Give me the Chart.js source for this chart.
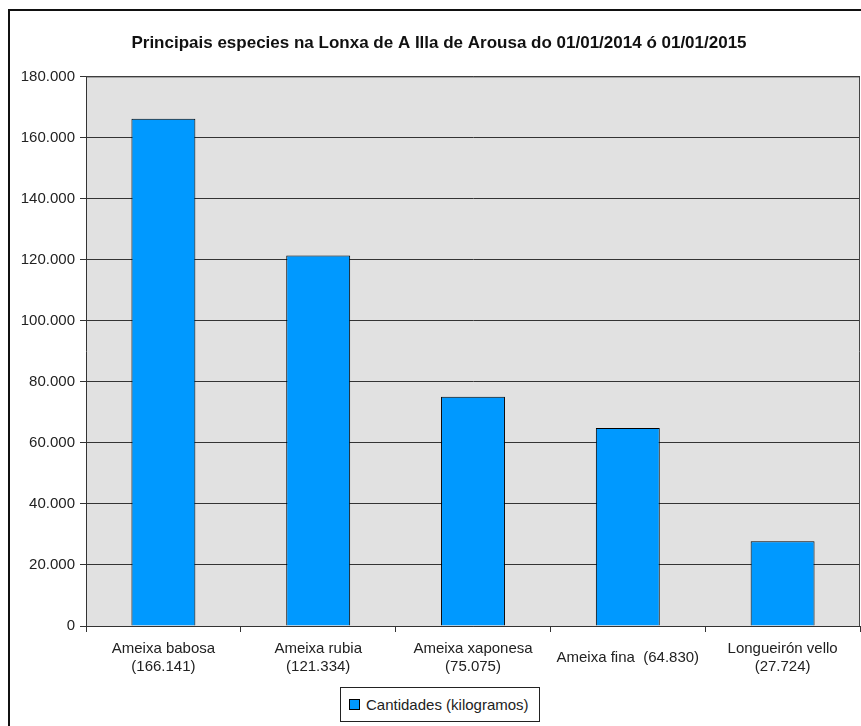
<!DOCTYPE html>
<html>
<head>
<meta charset="utf-8">
<script src="https://cdn.jsdelivr.net/npm/chart.js@4"></script>
<style>
    body { margin: 0; overflow: hidden; background: #fff; font-family: "Liberation Sans", Arial, sans-serif; }
    #wrap { position: relative; width: 861px; height: 726px; overflow: hidden; }
    #chart { position: absolute; left: 0; top: 0; }
    #frame { position: absolute; left: 8px; top: 9px; width: 900px; height: 800px; border: 2px solid #111; pointer-events: none; }
    #legend { position: absolute; left: 340px; top: 687px; width: 198px; height: 33px; border: 1px solid #222; background: #fff;
              font-size: 15px; color: #222; display: flex; align-items: center; }
    #legend .swatch { width: 9px; height: 9px; background: #0099ff; border: 1px solid #000; margin: 0 6px 0 8px; }
</style>
</head>
<body>
<div id="wrap">
    <canvas id="chart" width="861" height="726"></canvas>
    <div id="frame"></div>
    <div id="legend"><span class="swatch"></span><span>Cantidades (kilogramos)</span></div>
</div>
<script>
const categories = [
    ['Ameixa babosa', '(166.141)'],
    ['Ameixa rubia', '(121.334)'],
    ['Ameixa xaponesa', '(75.075)'],
    'Ameixa fina  (64.830)',
    ['Longueirón vello', '(27.724)']
];
const cantidades = [166141, 121334, 75075, 64830, 27724];
const yTicks = [0, 20000, 40000, 60000, 80000, 100000, 120000, 140000, 160000, 180000];

function formatThousands(v) {
    return String(v).replace(/\B(?=(\d{3})+(?!\d))/g, '.');
}

// gray plot background plus the right/top frame
const plotFrame = {
    id: 'plotFrame',
    beforeDraw(chart) {
        const a = chart.chartArea, ctx = chart.ctx;
        ctx.save();
        ctx.fillStyle = '#e1e1e1';
        ctx.fillRect(a.left, a.top, a.right - a.left, a.bottom - a.top);
        ctx.restore();
    },
    afterDraw(chart) {
        const a = chart.chartArea, ctx = chart.ctx;
        ctx.save();
        ctx.strokeStyle = '#444';
        ctx.lineWidth = 1;
        ctx.beginPath();
        ctx.moveTo(a.left, a.top + 0.5);
        ctx.lineTo(a.right - 0.5, a.top + 0.5);
        ctx.lineTo(a.right - 0.5, a.bottom);
        ctx.stroke();
        ctx.restore();
    }
};

Chart.defaults.font.family = '"Liberation Sans", Arial, sans-serif';
Chart.defaults.font.size = 15;
Chart.defaults.color = '#222';

new Chart(document.getElementById('chart').getContext('2d'), {
    type: 'bar',
    data: {
        labels: categories,
        datasets: [{
            label: 'Cantidades (kilogramos)',
            data: cantidades,
            backgroundColor: '#0099ff',
            borderColor: '#000',
            borderWidth: 1,
            categoryPercentage: 1,
            barPercentage: 0.413
        }]
    },
    options: {
        responsive: false,
        animation: false,
        layout: { padding: { left: 18, right: 1, top: 0, bottom: 0 } },
        plugins: {
            legend: { display: false },
            tooltip: { enabled: false },
            title: {
                display: true,
                text: 'Principais especies na Lonxa de A Illa de Arousa do 01/01/2014 ó 01/01/2015',
                font: { size: 17, weight: 'bold' },
                color: '#111',
                padding: { top: 33, bottom: 23 }
            }
        },
        scales: {
            x: {
                grid: { drawOnChartArea: false, drawTicks: true, tickLength: 6, color: '#333' },
                border: { color: '#333' },
                ticks: { padding: 17, crossAlign: 'center', maxRotation: 0, autoSkip: false },
                afterFit(scale) { scale.height = 100; }
            },
            y: {
                min: 0,
                max: 180000,
                afterBuildTicks(scale) { scale.ticks = yTicks.map(v => ({ value: v })); },
                grid: { color: '#333', tickLength: 6 },
                border: { color: '#333' },
                ticks: { padding: 5, callback: v => formatThousands(v) },
                afterFit(scale) { scale.width = 68; }
            }
        }
    },
    plugins: [plotFrame]
});
</script>
</body>
</html>
